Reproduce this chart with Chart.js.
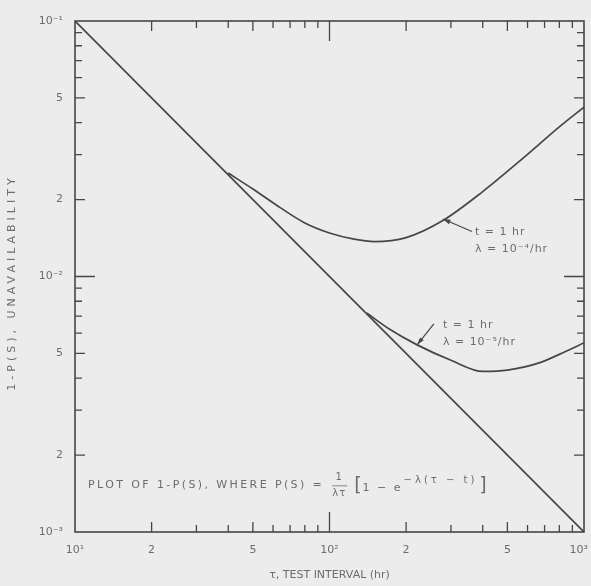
<!DOCTYPE html>
<html lang="en">
<head>
<meta charset="UTF-8">
<title>Unavailability vs test interval</title>
<style>
  html, body { margin: 0; padding: 0; background: #ececec; }
  .wrap { width: 591px; height: 586px; }
</style>
</head>
<body>
<div class="wrap"><canvas id="c" width="591" height="586"></canvas></div>
<script src="https://cdn.jsdelivr.net/npm/chart.js@4"></script>
<script>
// straight line (lambda -> 0)
const lineTau = [10, 1000];
const lineVal = [0.1, 0.001];

// t = 1 hr, lambda = 1e-4 /hr
const tau4 = [40, 50, 64, 80, 100, 125, 150, 200, 280, 400, 575, 800, 1000];
const val4 = [0.0254, 0.0220, 0.0186, 0.0162, 0.0148, 0.0140, 0.0137, 0.0142, 0.0166, 0.0215, 0.0290, 0.0385, 0.046];

// t = 1 hr, lambda = 1e-5 /hr
const tau5 = [140, 173, 221, 300, 401, 500, 671, 850, 1000];
const val5 = [0.0072, 0.0062, 0.0054, 0.0047, 0.00425, 0.0043, 0.0046, 0.0051, 0.0055];

const xTicks = [10, 20, 30, 40, 50, 60, 70, 80, 90, 100, 200, 300, 400, 500, 600, 700, 800, 900, 1000];
const xTickLabels = ['10¹', '2', '', '', '5', '', '', '', '', '10²', '2', '', '', '5', '', '', '', '', '10³   '];
const yTicks = [0.001, 0.002, 0.003, 0.004, 0.005, 0.006, 0.007, 0.008, 0.009, 0.01,
                0.02, 0.03, 0.04, 0.05, 0.06, 0.07, 0.08, 0.09, 0.1];
const yTickLabels = ['10⁻³', '2', '', '', '5', '', '', '', '', '10⁻²', '2', '', '', '5', '', '', '', '', '10⁻¹'];

const INK = '#464646';
const TEXT = '#6c6c6c';
const FONT = '11px "DejaVu Sans"';

function pts(xs, ys) {
    return xs.map(function(x, i) { return {x: x, y: ys[i]}; });
}

function mant(v) {
    const e = Math.floor(Math.log10(v) + 1e-9);
    return Math.round(v / Math.pow(10, e));
}

function tickLen(v, i, n) {
    if (i === 0 || i === n - 1) return 0;
    const m = mant(v);
    if (m === 1) return 20;
    if (m === 2 || m === 5) return 10;
    return 7;
}

function arrow(ctx, x0, y0, x1, y1) {
    ctx.beginPath();
    ctx.moveTo(x0, y0);
    ctx.lineTo(x1, y1);
    ctx.stroke();
    const a = Math.atan2(y1 - y0, x1 - x0);
    ctx.beginPath();
    ctx.moveTo(x1, y1);
    ctx.lineTo(x1 - 8 * Math.cos(a - 0.3), y1 - 8 * Math.sin(a - 0.3));
    ctx.lineTo(x1 - 8 * Math.cos(a + 0.3), y1 - 8 * Math.sin(a + 0.3));
    ctx.closePath();
    ctx.fill();
}

const framePlugin = {
    id: 'frame',
    beforeDraw: function(chart) {
        const ctx = chart.ctx;
        ctx.save();
        ctx.fillStyle = '#ececec';
        ctx.fillRect(0, 0, chart.width, chart.height);
        ctx.restore();
    },
    afterDraw: function(chart) {
        const ctx = chart.ctx;
        const a = chart.chartArea;
        const xs = chart.scales.x, ys = chart.scales.y;
        ctx.save();
        ctx.strokeStyle = INK;
        ctx.fillStyle = INK;
        ctx.lineWidth = 1.6;
        ctx.strokeRect(a.left, a.top, a.right - a.left, a.bottom - a.top);

        // inward ticks on all four sides
        ctx.lineWidth = 1.3;
        ctx.beginPath();
        xTicks.forEach(function(v, i) {
            const l = tickLen(v, i, xTicks.length);
            const px = xs.getPixelForValue(v);
            ctx.moveTo(px, a.bottom); ctx.lineTo(px, a.bottom - l);
            ctx.moveTo(px, a.top); ctx.lineTo(px, a.top + l);
        });
        yTicks.forEach(function(v, i) {
            const l = tickLen(v, i, yTicks.length);
            const py = ys.getPixelForValue(v);
            ctx.moveTo(a.left, py); ctx.lineTo(a.left + l, py);
            ctx.moveTo(a.right, py); ctx.lineTo(a.right - l, py);
        });
        ctx.stroke();

        // y axis title
        ctx.fillStyle = TEXT;
        ctx.font = FONT;
        ctx.letterSpacing = '4px';
        ctx.textAlign = 'center';
        ctx.textBaseline = 'middle';
        ctx.save();
        ctx.translate(12, (a.top + a.bottom) / 2 + 6);
        ctx.rotate(-Math.PI / 2);
        ctx.fillText('1-P(S), UNAVAILABILITY', 0, 0);
        ctx.restore();

        // curve labels
        ctx.letterSpacing = '1px';
        ctx.textAlign = 'left';
        let x = xs.getPixelForValue(373), y = ys.getPixelForValue(0.0149);
        ctx.fillText('t = 1 hr', x, y);
        ctx.fillText('λ = 10⁻⁴/hr', x, y + 17);
        x = xs.getPixelForValue(279); y = ys.getPixelForValue(0.00646);
        ctx.fillText('t = 1 hr', x, y);
        ctx.fillText('λ = 10⁻⁵/hr', x, y + 17);

        ctx.strokeStyle = INK;
        ctx.fillStyle = INK;
        ctx.lineWidth = 1.2;
        arrow(ctx, xs.getPixelForValue(363), ys.getPixelForValue(0.0150),
                   xs.getPixelForValue(279), ys.getPixelForValue(0.0168));
        arrow(ctx, xs.getPixelForValue(257), ys.getPixelForValue(0.00652),
                   xs.getPixelForValue(221), ys.getPixelForValue(0.0054));

        // formula
        ctx.fillStyle = TEXT;
        ctx.strokeStyle = TEXT;
        ctx.letterSpacing = '2.4px';
        x = xs.getPixelForValue(11.25);
        y = ys.getPixelForValue(0.00153);
        let s = 'PLOT OF 1-P(S), WHERE P(S) =';
        ctx.fillText(s, x, y);
        x += ctx.measureText(s).width + 8;
        ctx.letterSpacing = '1px';
        ctx.font = '10px "DejaVu Sans"';
        ctx.textAlign = 'center';
        ctx.fillText('1', x + 7, y - 7);
        ctx.fillText('λτ', x + 7, y + 9);
        ctx.lineWidth = 0.8;
        ctx.beginPath();
        ctx.moveTo(x, y + 1); ctx.lineTo(x + 15, y + 1);
        ctx.stroke();
        x += 22;
        ctx.textAlign = 'left';
        ctx.font = '19px "DejaVu Sans"';
        ctx.letterSpacing = '0px';
        ctx.fillText('[', x, y + 1);
        x += ctx.measureText('[').width + 1;
        ctx.font = FONT;
        ctx.letterSpacing = '2px';
        s = '1 − e';
        ctx.fillText(s, x, y + 3);
        x += ctx.measureText(s).width + 1;
        ctx.font = '10px "DejaVu Sans"';
        ctx.letterSpacing = '3px';
        s = '−λ(τ − t)';
        ctx.fillText(s, x, y - 4);
        x += ctx.measureText(s).width + 2;
        ctx.font = '19px "DejaVu Sans"';
        ctx.letterSpacing = '0px';
        ctx.fillText(']', x, y + 1);
        ctx.restore();
    }
};

const style = {
    borderColor: INK,
    borderWidth: 1.7,
    pointRadius: 0,
    showLine: true,
    fill: false,
    tension: 0.4,
    cubicInterpolationMode: 'monotone'
};

new Chart(document.getElementById('c'), {
    type: 'scatter',
    data: {
        datasets: [
            Object.assign({label: 'lambda -> 0', data: pts(lineTau, lineVal)}, style),
            Object.assign({label: 'lambda = 1e-4', data: pts(tau4, val4)}, style),
            Object.assign({label: 'lambda = 1e-5', data: pts(tau5, val5)}, style)
        ]
    },
    plugins: [framePlugin],
    options: {
        responsive: false,
        animation: false,
        devicePixelRatio: 1,
        layout: { padding: { top: 21, right: 7, left: 0, bottom: 0 } },
        plugins: { legend: { display: false }, tooltip: { enabled: false } },
        scales: {
            x: {
                type: 'logarithmic',
                min: 10,
                max: 1000,
                afterBuildTicks: function(s) { s.ticks = xTicks.map(function(v) { return {value: v}; }); },
                afterFit: function(s) { s.height = 54; s.paddingLeft = 0; s.paddingRight = 0; },
                grid: { display: false, drawTicks: false },
                border: { display: false },
                ticks: {
                    autoSkip: false,
                    maxRotation: 0,
                    padding: 12,
                    color: TEXT,
                    font: { family: 'DejaVu Sans', size: 11 },
                    callback: function(v, i) { return xTickLabels[i]; }
                },
                title: {
                    display: true,
                    text: 'τ, TEST INTERVAL (hr)',
                    color: TEXT,
                    font: { family: 'DejaVu Sans', size: 11 },
                    padding: { top: 0, bottom: 4 }
                }
            },
            y: {
                type: 'logarithmic',
                min: 0.001,
                max: 0.1,
                afterBuildTicks: function(s) { s.ticks = yTicks.map(function(v) { return {value: v}; }); },
                afterFit: function(s) { s.width = 75; s.paddingTop = 0; s.paddingBottom = 0; },
                grid: { display: false, drawTicks: false },
                border: { display: false },
                ticks: {
                    autoSkip: false,
                    padding: 12,
                    color: TEXT,
                    font: { family: 'DejaVu Sans', size: 11 },
                    callback: function(v, i) { return yTickLabels[i]; }
                }
            }
        }
    }
});
</script>
</body>
</html>
